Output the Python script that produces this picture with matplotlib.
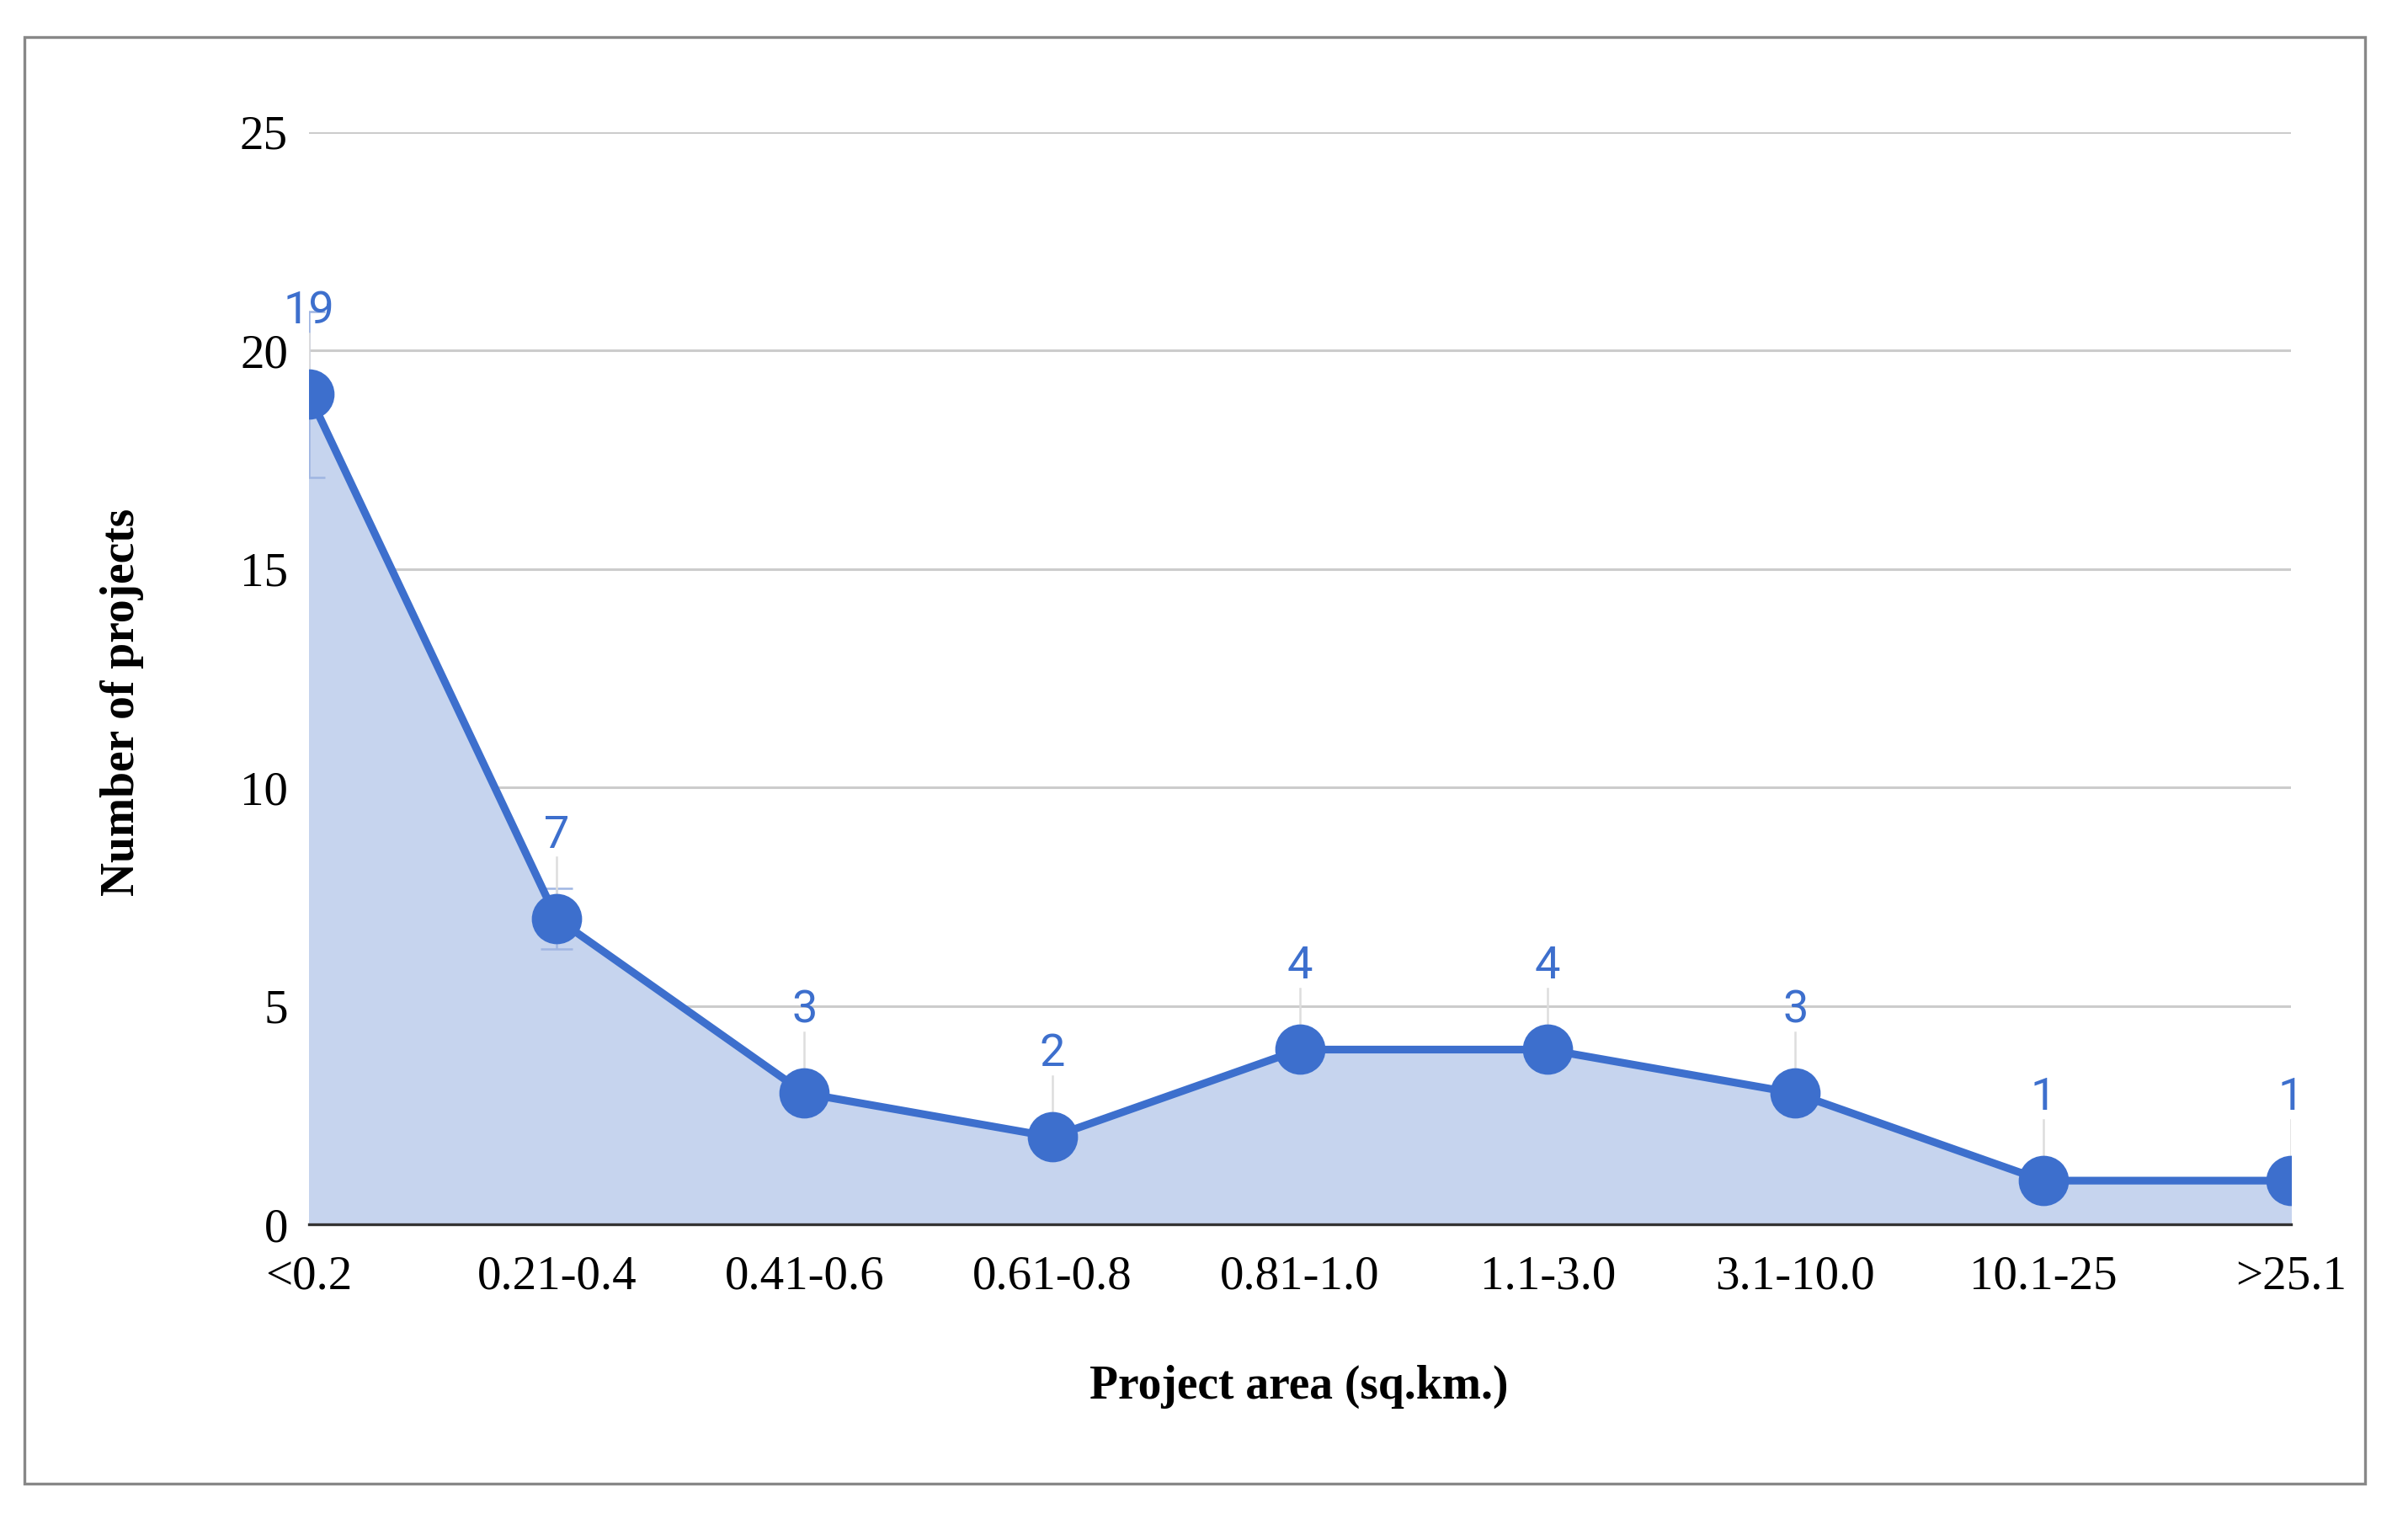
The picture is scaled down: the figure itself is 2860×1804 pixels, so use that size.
import numpy as np
import matplotlib
matplotlib.use('Agg')
import matplotlib.pyplot as plt
from matplotlib.patches import Rectangle

# Data
categories = ['<0.2', '0.21-0.4', '0.41-0.6', '0.61-0.8', '0.81-1.0',
              '1.1-3.0', '3.1-10.0', '10.1-25', '>25.1']
counts = [19, 7, 3, 2, 4, 4, 3, 1, 1]
errors = [1.9, 0.7, 0.3, 0.2, 0.4, 0.4, 0.3, 0.1, 0.1]
yticks = [0, 5, 10, 15, 20, 25]

line_color = '#3d6fcd'
fill_color = '#c6d4ee'

fig = plt.figure(figsize=(14.3, 9.02), dpi=200)
ax = fig.add_axes([0.1283, 0.194, 0.9514 - 0.1283, 0.913 - 0.194])

x = np.arange(len(categories))

# grid
ax.set_ylim(0, 25)
ax.set_xlim(0, len(categories) - 1)
ax.set_yticks(yticks)
ax.yaxis.grid(True, color='#cccccc', linewidth=1.1)
ax.set_axisbelow(True)

ax.fill_between(x, counts, 0, color=fill_color, zorder=1)

# error bars
ax.errorbar(x, counts, yerr=errors, fmt='none', ecolor='#9fb5e2',
            elinewidth=0.9, capsize=7, capthick=0.9, zorder=2)

# leader lines and labels
for xi, v in zip(x, counts):
    ax.plot([xi, xi], [v, v + 1.4], color='#dddddd', linewidth=0.9, zorder=2)
    ax.text(xi, v + 1.9, str(v), ha='center', va='center', color=line_color,
            fontsize=19.5, family='Roboto', zorder=5)

ax.plot(x, counts, color=line_color, linewidth=3.3, marker='o',
        markersize=20.5, zorder=3, clip_on=True)

for s in ['top', 'right', 'left']:
    ax.spines[s].set_visible(False)
ax.spines['bottom'].set_color('#333333')
ax.spines['bottom'].set_linewidth(1.2)
ax.spines['bottom'].set_zorder(4)

ax.set_xticks(x)
ax.set_xticklabels(categories)
ax.tick_params(axis='both', length=0, labelsize=20.5, colors='black')
ax.tick_params(axis='x', pad=13)
ax.tick_params(axis='y', pad=9)
for lab in ax.get_xticklabels() + ax.get_yticklabels():
    lab.set_family('Liberation Serif')

fig.text(1543 / 2860, 1 - 1647 / 1804, 'Project area (sq.km.)', ha='center',
         va='center', fontsize=20, family='Liberation Serif', weight='bold')
fig.text(145 / 2860, 1 - 834 / 1804, 'Number of projects', ha='center',
         va='center', rotation=90, fontsize=20, family='Liberation Serif',
         weight='bold')

# outer frame
fig.patches.append(Rectangle((29 / 2860, 1 - 1762 / 1804), (2809 - 29) / 2860,
                             (1762 - 44) / 1804, transform=fig.transFigure,
                             fill=False, edgecolor='#888888', linewidth=1.2))

fig.savefig('out.png', dpi=200)
